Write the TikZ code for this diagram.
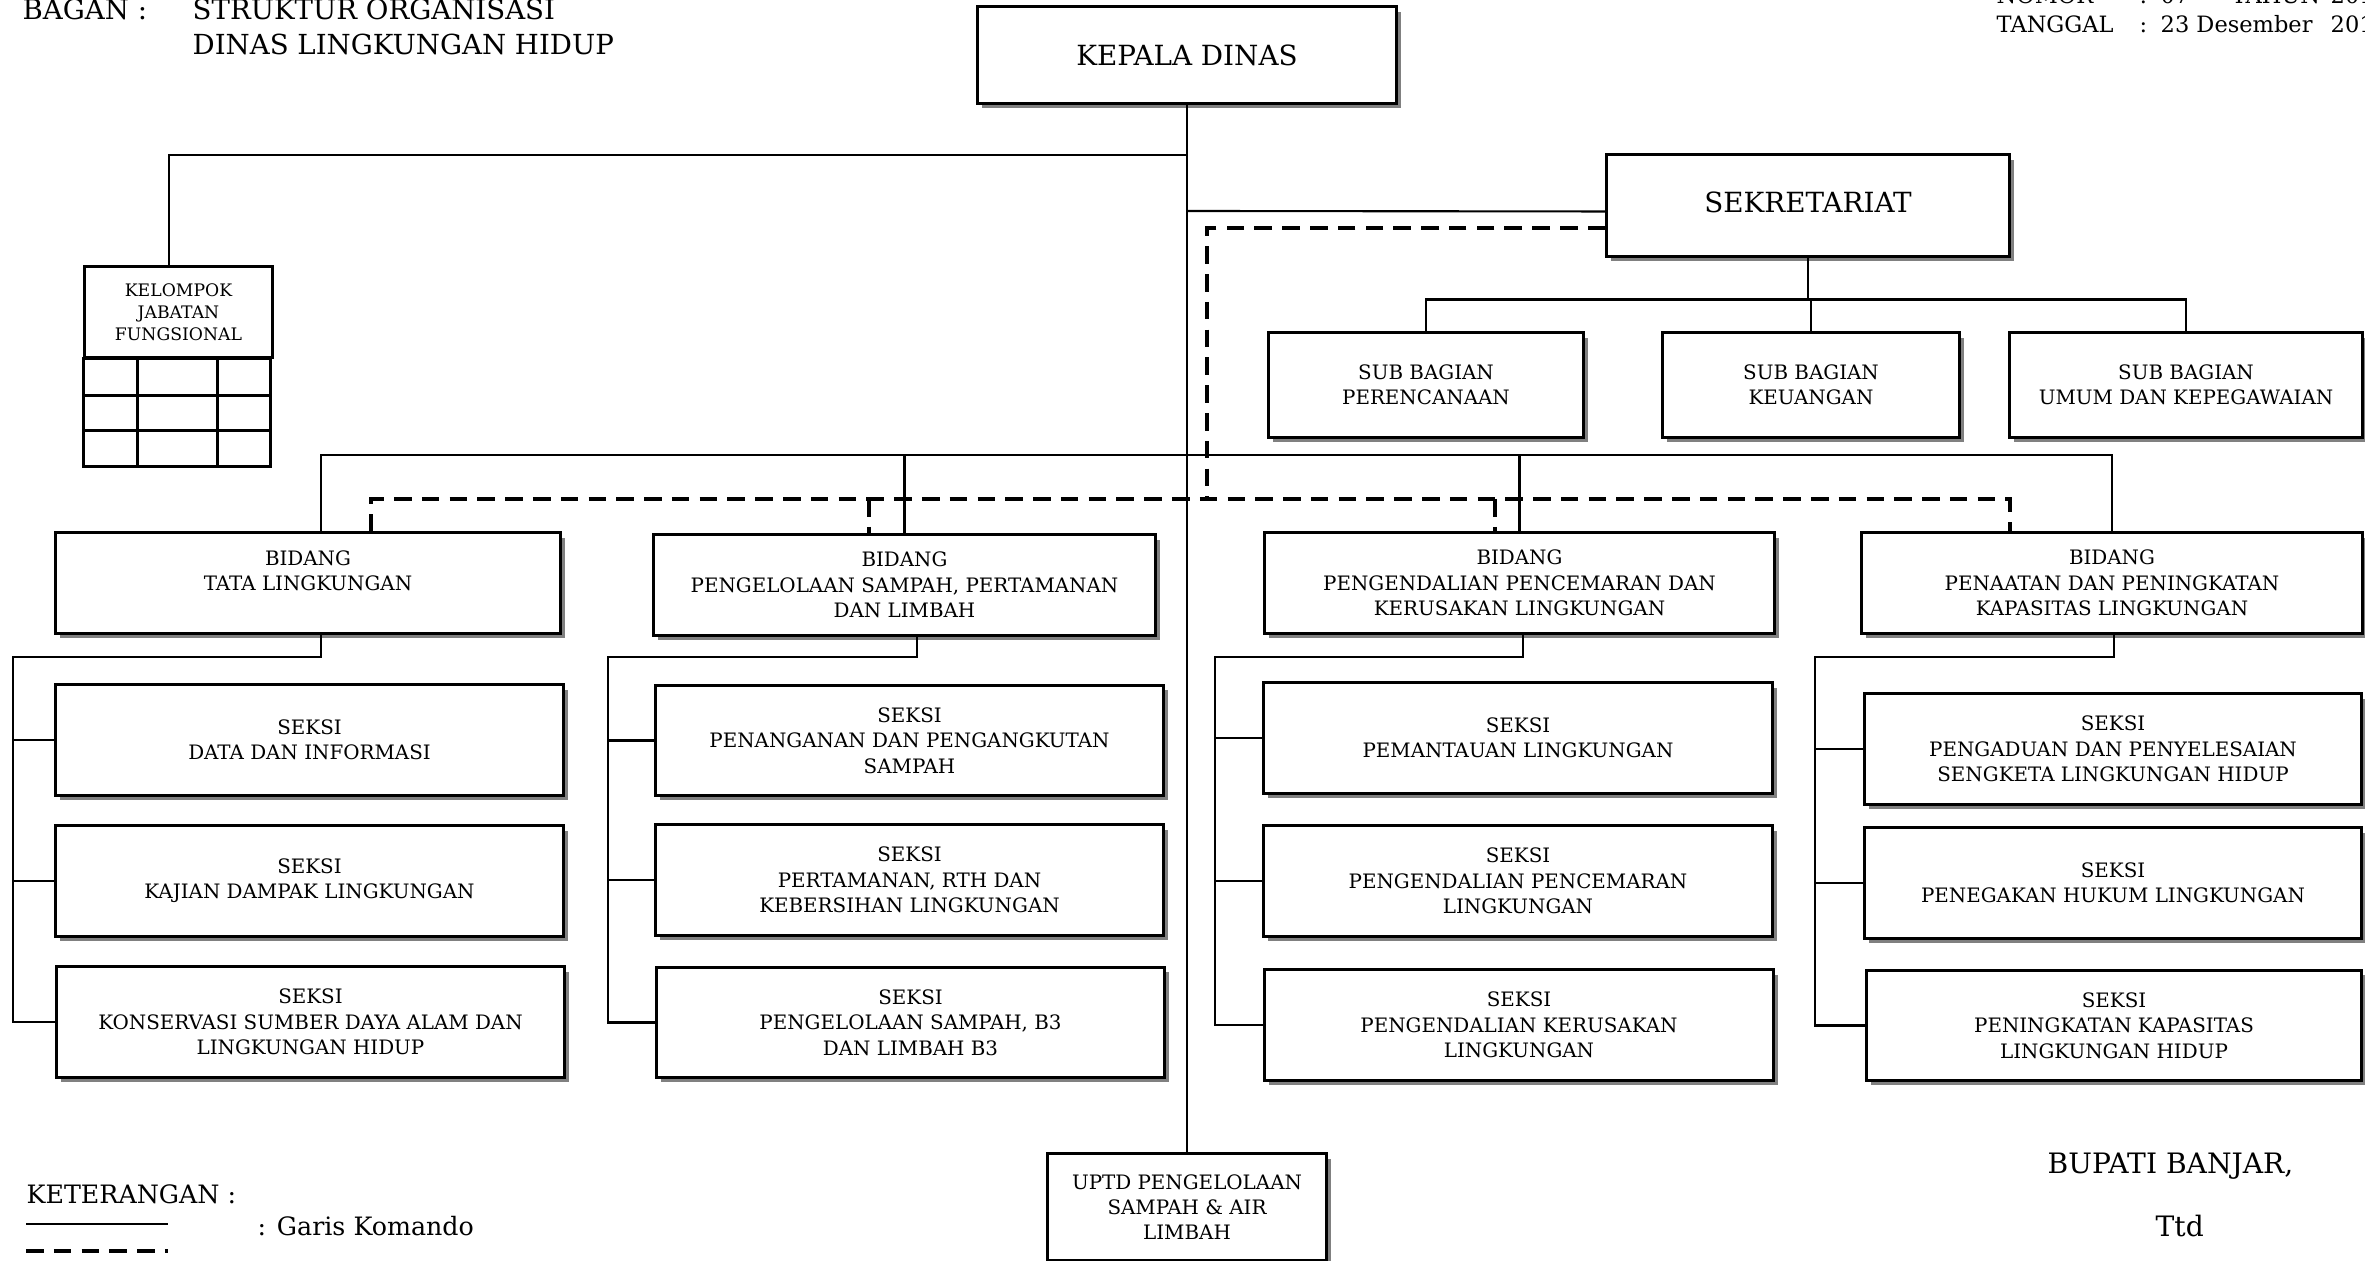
\documentclass[tikz,border=0pt]{standalone}
\usepackage{fontspec}
\setmainfont{DejaVu Serif}
\usetikzlibrary{shadows}

\tikzset{
  kotak/.style={draw, line width=0.85pt, fill=white, inner sep=0pt, align=center,
    drop shadow={shadow xshift=1.3pt, shadow yshift=-1.3pt, fill=black!50, opacity=1}},
  besar/.style={kotak, font=\fontsize{7.9}{9.5}\selectfont},
  kecil/.style={kotak, font=\fontsize{5.65}{7.2}\selectfont},
  subbag/.style={kecil, minimum height=1.04cm},
  bidang/.style={kecil, minimum width=5.05cm, minimum height=1cm},
  seksi/.style={kecil, minimum width=5.07cm, minimum height=1.1cm},
  garis/.style={line width=0.6pt},
  putus/.style={line width=1.15pt, dash pattern=on 5pt off 2.9pt},
  teks/.style={anchor=base west, inner sep=0pt},
}

\begin{document}
\begin{tikzpicture}[x=0.01cm, y=-0.01cm]
    \useasboundingbox (0,0) rectangle (2365,1261);
    \clip (0,0) rectangle (2365,1261);

    % kop
    \node[teks, font=\fontsize{7.85}{9.5}\selectfont] (bagan) at (22,20) {BAGAN :};
    \node[teks, font=\fontsize{7.85}{9.5}\selectfont] (judul1) at (192,20) {STRUKTUR ORGANISASI};
    \node[teks, font=\fontsize{7.85}{9.5}\selectfont] (judul2) at (192,55) {DINAS LINGKUNGAN HIDUP};
    \node[teks, font=\fontsize{6.4}{8}\selectfont] (nomor) at (1996,4) {NOMOR};
    \node[teks, font=\fontsize{6.4}{8}\selectfont] (nomorb) at (2139,4) {:};
    \node[teks, font=\fontsize{6.4}{8}\selectfont] (nomorc) at (2160,4) {07};
    \node[teks, font=\fontsize{6.4}{8}\selectfont] (tahun) at (2231,4) {TAHUN};
    \node[teks, font=\fontsize{6.4}{8}\selectfont] (tahunb) at (2330,4) {201};
    \node[teks, font=\fontsize{6.4}{8}\selectfont] (tgl) at (1996,33) {TANGGAL};
    \node[teks, font=\fontsize{6.4}{8}\selectfont] (tglb) at (2139,33) {:};
    \node[teks, font=\fontsize{6.4}{8}\selectfont] (tglc) at (2160,33) {23 Desember};
    \node[teks, font=\fontsize{6.4}{8}\selectfont] (tgld) at (2330,33) {201};

    % pimpinan dan sekretariat
    \node[besar, minimum width=4.18cm, minimum height=0.96cm] (kadis) at (1187,55) {KEPALA DINAS};
    \node[besar, minimum width=4.02cm, minimum height=1.01cm] (sekr) at (1808,205.5) {\raisebox{2pt}{SEKRETARIAT}};
    \node[subbag, minimum width=3.14cm] (sb1) at (1426,385) {SUB BAGIAN\\PERENCANAAN};
    \node[subbag, minimum width=2.96cm] (sb2) at (1811,385) {SUB BAGIAN\\KEUANGAN};
    \node[subbag, minimum width=3.52cm] (sb3) at (2186,385) {SUB BAGIAN\\UMUM DAN KEPEGAWAIAN};

    % kelompok jabatan fungsional
    \node[draw, line width=0.85pt, fill=white, align=center, inner sep=0pt,
          minimum width=1.87cm, minimum height=0.9cm, font=\fontsize{4.9}{6.3}\selectfont]
          (kjf) at (178.5,312) {KELOMPOK\\JABATAN\\FUNGSIONAL};
    \draw[line width=0.85pt] (kjf.south west) rectangle ++(187,108);
    \foreach \r in {37,72}
        \draw[line width=0.85pt] (kjf.south west) ++(0,\r) -- ++(187,0);
    \foreach \k in {54,134}
        \draw[line width=0.85pt] (kjf.south west) ++(\k,0) -- ++(0,108);

    % bidang
    \node[bidang] (bid1) at (308,583) {BIDANG\\TATA LINGKUNGAN\\~};
    \node[bidang, minimum width=5.01cm] (bid2) at (904.5,585) {BIDANG\\PENGELOLAAN SAMPAH, PERTAMANAN\\DAN LIMBAH};
    \node[bidang, minimum width=5.09cm] (bid3) at (1519.5,583) {BIDANG\\PENGENDALIAN PENCEMARAN DAN\\KERUSAKAN LINGKUNGAN};
    \node[bidang, minimum width=5cm] (bid4) at (2112,583) {BIDANG\\PENAATAN DAN PENINGKATAN\\KAPASITAS LINGKUNGAN};

    % seksi
    \node[seksi] (s11) at (309.5,740) {SEKSI\\DATA DAN INFORMASI};
    \node[seksi] (s12) at (309.5,881) {SEKSI\\KAJIAN DAMPAK LINGKUNGAN};
    \node[seksi] (s13) at (310.5,1022) {SEKSI\\KONSERVASI SUMBER DAYA ALAM DAN\\LINGKUNGAN HIDUP};
    \node[seksi] (s21) at (909.5,740.5) {SEKSI\\PENANGANAN DAN PENGANGKUTAN\\SAMPAH};
    \node[seksi] (s22) at (909.5,880) {SEKSI\\PERTAMANAN, RTH DAN\\KEBERSIHAN LINGKUNGAN};
    \node[seksi] (s23) at (910.5,1022.5) {SEKSI\\PENGELOLAAN SAMPAH, B3\\DAN LIMBAH B3};
    \node[seksi, minimum width=5.08cm] (s31) at (1518,738) {SEKSI\\PEMANTAUAN LINGKUNGAN};
    \node[seksi, minimum width=5.08cm] (s32) at (1518,881) {SEKSI\\PENGENDALIAN PENCEMARAN\\LINGKUNGAN};
    \node[seksi, minimum width=5.08cm] (s33) at (1519,1025) {SEKSI\\PENGENDALIAN KERUSAKAN\\LINGKUNGAN};
    \node[seksi, minimum width=4.96cm] (s41) at (2113,749) {SEKSI\\PENGADUAN DAN PENYELESAIAN\\SENGKETA LINGKUNGAN HIDUP};
    \node[seksi, minimum width=4.96cm] (s42) at (2113,883) {SEKSI\\PENEGAKAN HUKUM LINGKUNGAN};
    \node[seksi, minimum width=4.94cm] (s43) at (2114,1025.5) {SEKSI\\PENINGKATAN KAPASITAS\\LINGKUNGAN HIDUP};

    \node[kecil, minimum width=2.78cm, minimum height=1.06cm] (upt) at (1187,1207) {UPTD PENGELOLAAN\\SAMPAH \& AIR\\LIMBAH};

    % garis komando
    \draw[garis] (kadis.south) -- (upt.north);
    \draw[garis] (kadis.south |- 0,155) -| ([xshift=-2.8pt]kjf.north);
    \draw[garis] (kadis.south |- 0,211) -- ([yshift=-1.7pt]sekr.west);
    \draw[garis] (sekr.south) -- ++(0,42) coordinate (jsb);
    \draw[garis] (sb1.north) |- (jsb) -| (sb3.north);
    \draw[garis] (jsb -| sb2.north) -- (sb2.north);
    \coordinate (bus) at (1187,455);
    \draw[garis] ([xshift=3.7pt]bid1.north) |- (bus) -| (bid4.north);
    \draw[garis] (bus -| bid2.north) -- (bid2.north);
    \draw[garis] (bus -| bid3.north) -- (bid3.north);
    \foreach \c/\tx/\sx in {1/13/3.7,2/608/3.5,3/1215/1,4/1815/0.5}{
        \coordinate (t\c) at (\tx,657);
        \draw[garis] ([xshift=\sx pt]bid\c.south) |- (t\c) -- (t\c |- s\c3.west) -- (s\c3.west);
        \draw[garis] (t\c |- s\c1.west) -- (s\c1.west);
        \draw[garis] (t\c |- s\c2.west) -- (s\c2.west);
    }

    % garis koordinasi
    \coordinate (dk) at (1207,499);
    \draw[putus] (sekr.west |- 0,228) -| (dk);
    \foreach \i/\dx in {1/371,2/869,3/1495,4/2010}
        \coordinate (dd\i) at (\dx,499);
    \draw[putus] (dd1 |- bid1.north) -- (dd1) -- (dd4) -- (dd4 |- bid4.north);
    \draw[putus] (dd2) -- (dd2 |- bid2.north);
    \draw[putus] (dd3) -- (dd3 |- bid3.north);

    % keterangan
    \node[teks, font=\fontsize{7.2}{9}\selectfont] (ket) at (26,1204) {KETERANGAN :};
    \draw[garis] (26,1224) -- (168,1224);
    \node[teks, font=\fontsize{7.2}{9}\selectfont] (komando) at (257,1235) {: Garis Komando};
    \draw[putus] (26,1251) -- (168,1251);

    \node[teks, font=\fontsize{8}{10}\selectfont] (bupati) at (2047,1173) {BUPATI BANJAR,};
    \node[teks, font=\fontsize{8}{10}\selectfont] (ttd) at (2155,1236) {Ttd};
\end{tikzpicture}
\end{document}
